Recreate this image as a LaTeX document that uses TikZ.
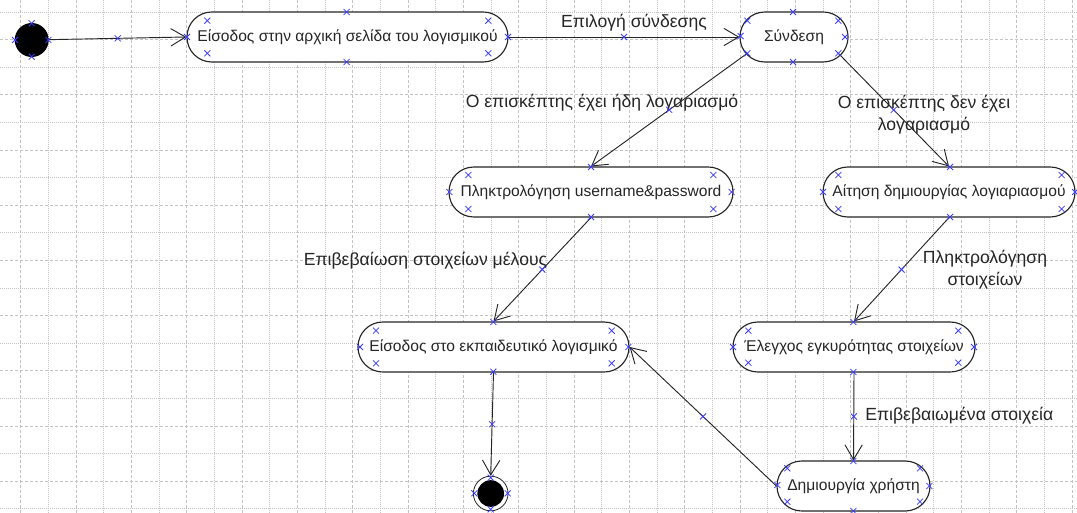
\documentclass[tikz,border=0pt]{standalone}
\usepackage{fontspec}
\setmainfont{Liberation Sans}
\usetikzlibrary{arrows.meta}
\definecolor{gridc}{HTML}{C4C4C4}
\definecolor{markc}{HTML}{3C3CFF}
\definecolor{inkc}{HTML}{262626}
\begin{document}
\begin{tikzpicture}[x=0.75pt,y=-0.75pt,
  griddash/.style={gridc,line width=0.7pt,dash pattern=on 2.25pt off 1.5pt},
  griddot/.style={gridc,line width=0.7pt,dash pattern=on 0.75pt off 0.75pt},
  state/.style={rectangle,draw=inkc,line width=0.85pt,fill=white,rounded corners=18.6pt,
    minimum height=37.5pt,inner sep=0pt,text=inkc,font=\fontsize{11.7}{13.5}\selectfont},
  lbl/.style={text=inkc,font=\fontsize{13.2}{16.5}\selectfont,align=center,inner sep=0pt},
  edge/.style={draw=inkc,line width=0.7pt,-{Straight Barb[length=11pt,width=13pt,line width=0.7pt]}},
  xm/.pic={\draw[markc,line width=0.55pt] (-3,-3) -- (3,3) (-3,3) -- (3,-3);}
]
\useasboundingbox (0,0) rectangle (1077,513);
\fill[white] (0,0) rectangle (1077,513);

% background grid: dashed and dotted lines alternate
\foreach \i in {0,...,38} {
  \pgfmathtruncatemacro\odd{mod(\i,2)}
  \ifnum\odd=0 \draw[griddash] ({20.7+27.67*\i},0) -- ++(0,513);
  \else \draw[griddot] ({20.7+27.67*\i},0) -- ++(0,513); \fi
}
\foreach \j in {0,...,18} {
  \pgfmathtruncatemacro\odd{mod(\j,2)}
  \ifnum\odd=1 \draw[griddash] (0,{12+27.6*\j}) -- ++(1077,0);
  \else \draw[griddot] (0,{12+27.6*\j}) -- ++(1077,0); \fi
}

% states
\node[circle,fill=black,minimum size=25.5pt,inner sep=0pt] (n0) at (31.7,40) {};
\node[state,minimum width=240.75pt] (n1) at (347.5,37) {Είσοδος στην αρχική σελίδα του λογισμικού};
\node[state,minimum width=81pt] (n2) at (794,37) {Σύνδεση};
\node[state,minimum width=213pt] (n3) at (591,192) {Πληκτρολόγηση username\&password};
\node[state,minimum width=189pt] (n4) at (949,192) {Αίτηση δημιουργίας λογιαριασμού};
\node[state,minimum width=203.25pt] (n5) at (493.5,347) {Είσοδος στο εκπαιδευτικό λογισμικό};
\node[state,minimum width=181.5pt] (n6) at (854,347) {Έλεγχος εγκυρότητας στοιχείων};
\node[state,minimum width=114.75pt] (n7) at (853.5,486) {Δημιουργία χρήστη};
\node[circle,draw=inkc,line width=0.6pt,fill=white,minimum size=26pt,inner sep=0pt] (fin) at (490.7,493.5) {};
\fill[black] (fin.center) circle[radius=10pt];

% departure points on the rounded end of Σύνδεση
\coordinate (n2bl) at (747.3,53.3);
\coordinate (n2br) at (838.3,53.3);

% transitions
\draw[edge] (n0) -- coordinate[pos=.5] (m0) (n1.west);
\draw[edge] (n1.east) -- coordinate[pos=.5] (m1) (n2.west);
\draw[edge] (n2bl) -- coordinate[pos=.5] (m2) (n3.north);
\draw[edge] (n2br) -- coordinate[pos=.5] (m3) (n4.north);
\draw[edge] (n3.south) -- coordinate[pos=.5] (m4) (n5.north);
\draw[edge] (n4.south) -- coordinate[pos=.5] (m5) (n6.north);
\draw[edge] (n6.south) -- coordinate[pos=.5] (m6) (n7.north);
\draw[edge] (n7.west) -- coordinate[pos=.5] (m7) (n5.east);
\draw[edge] (n5.south) -- coordinate[pos=.5] (m8) (fin.north);

% transition labels
\node[lbl] (l1) at (634,23) {Επιλογή σύνδεσης};
\node[lbl] (l2) at (602,103) {Ο επισκέπτης έχει ήδη λογαριασμό};
\node[lbl] (l3) at (924,115) {Ο επισκέπτης δεν έχει\\λογαριασμό};
\node[lbl] (l4) at (425.5,261) {Επιβεβαίωση στοιχείων μέλους};
\node[lbl] (l5) at (985,270) {Πληκτρολόγηση\\στοιχείων};
\node[lbl,anchor=west] (l6) at (865,416) {Επιβεβαιωμένα στοιχεία};

% connection handles
\foreach \p in {m0,m1,m2,m3,m4,m5,m6,m7,m8} \pic at (\p) {xm};
\foreach \x/\y in {
  31.7/23.3, 15/40, 48.3/40, 31.7/56.7,
  207.3/20.7, 207.3/53.3, 488.3/20.7, 488.3/53.3, 346.7/12, 346.7/62, 187/37, 508/37,
  747.3/20.7, 747.3/53.3, 838.3/20.7, 838.3/53.3, 793/12, 793/62, 740.5/36, 845/37,
  468.3/175, 468.3/209, 713.3/175, 713.3/209, 591/167, 591/217, 449.3/192, 731.7/192,
  838.3/175, 838.3/209, 1061.7/175, 1061.7/209, 950/167, 950/217, 823/192, 1075/192,
  376/330.7, 376/363.3, 611.7/330.7, 611.7/363.3, 493.3/322, 493.3/371.7, 360/347, 628.3/347,
  748.3/330.7, 748.3/362.7, 958.3/330.7, 958.3/362.7, 853.3/322, 853.3/372, 733/347, 974/347,
  787.3/468.3, 787.3/501.7, 920/468.3, 920/501.7, 853.3/461, 853.3/511, 777.3/485, 929.3/486,
  490.7/477.7, 474.3/493.3, 507.7/493.3, 490.7/509.3}
  \pic at (\x,\y) {xm};
\end{tikzpicture}
\end{document}
